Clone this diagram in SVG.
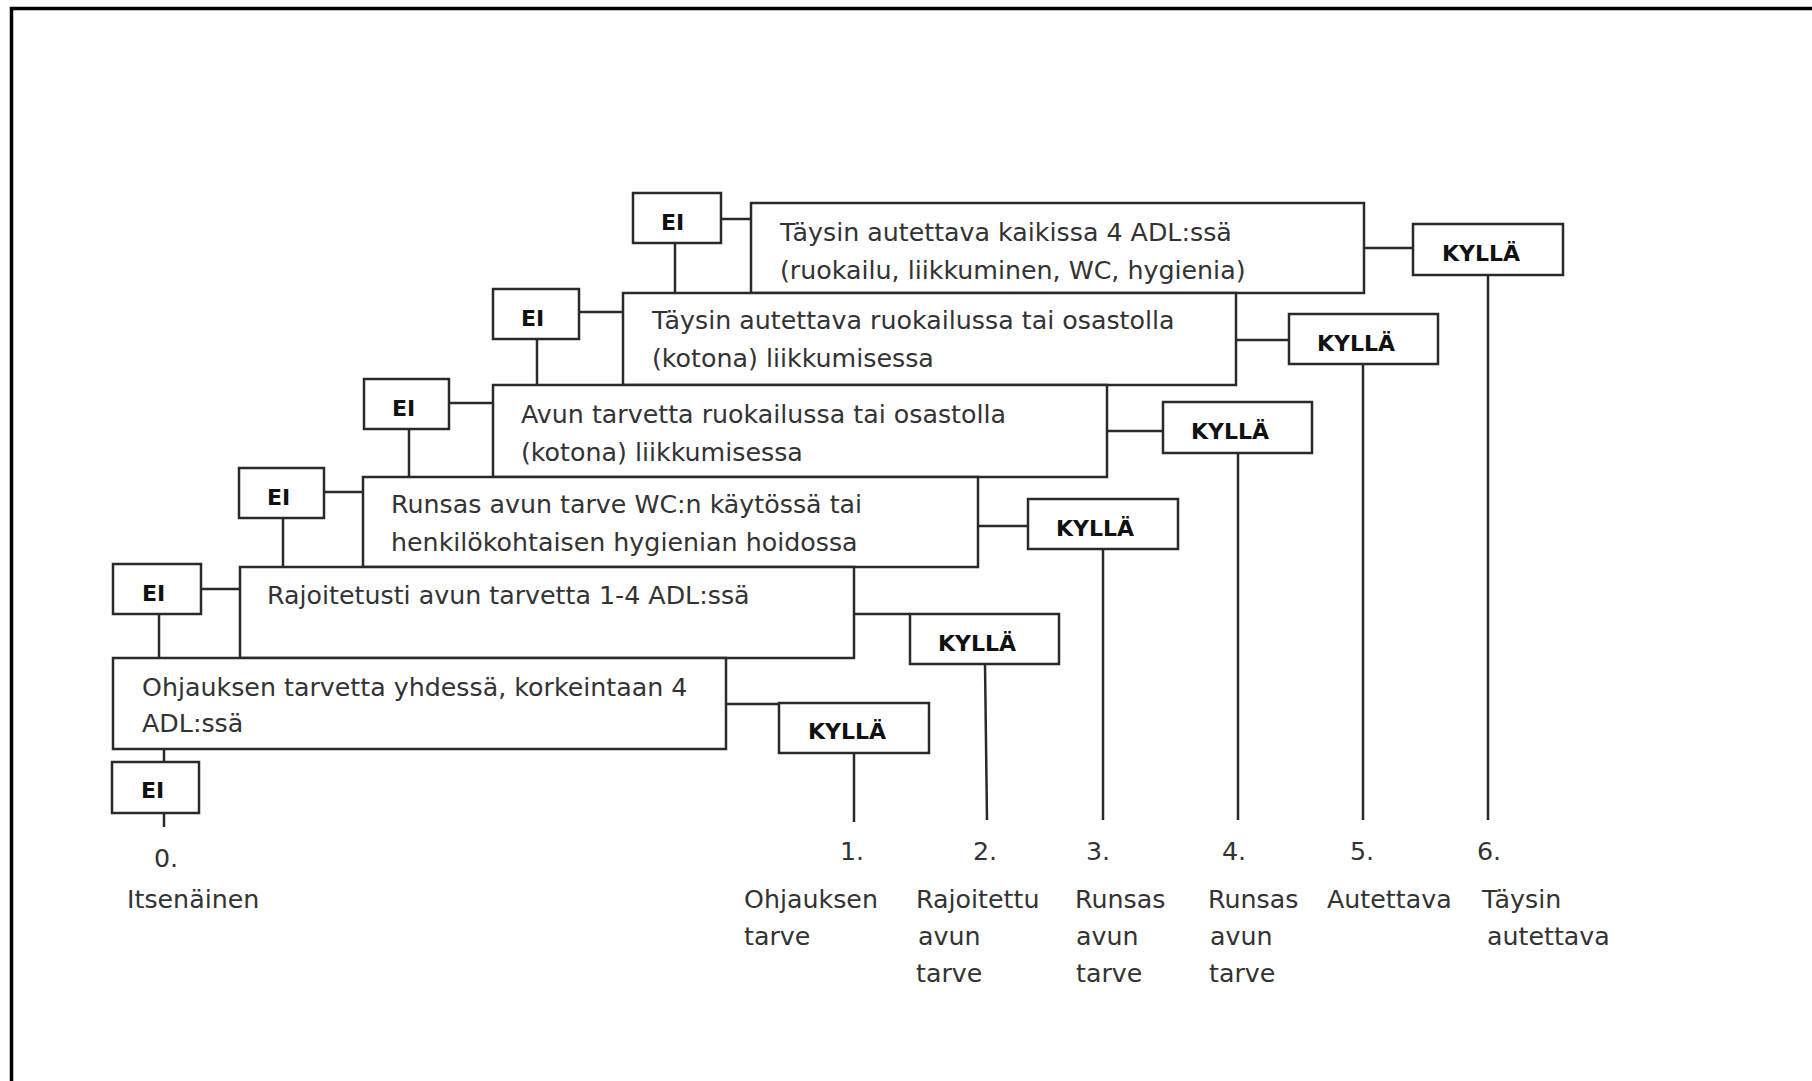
<svg xmlns="http://www.w3.org/2000/svg" width="1812" height="1081" viewBox="0 0 1812 1081">
<style>
.bx{fill:#fff;stroke:#2a2a2a;stroke-width:2.5}
.ln{stroke:#2a2a2a;stroke-width:2.5;fill:none}
.t{font-family:"DejaVu Sans","Liberation Sans",sans-serif;font-size:25.3px;fill:#333}
.b{font-family:"DejaVu Sans","Liberation Sans",sans-serif;font-weight:bold;font-size:22px;fill:#111}
.lb{font-family:"DejaVu Sans","Liberation Sans",sans-serif;font-size:25.3px;fill:#333}
</style>
<rect x="0" y="0" width="1812" height="1081" fill="#fff"/>
<rect id="frame" x="11.5" y="8.5" width="1830" height="1100" fill="none" stroke="#000" stroke-width="3.5"/>

<g id="connectors">
  <path class="ln" d="M721 219H752"/>
  <path class="ln" d="M675 243V293"/>
  <path class="ln" d="M579 312H623"/>
  <path class="ln" d="M537 339V385"/>
  <path class="ln" d="M449 403H493"/>
  <path class="ln" d="M409 429V477"/>
  <path class="ln" d="M324 492H363"/>
  <path class="ln" d="M283 518V567"/>
  <path class="ln" d="M201 589H240"/>
  <path class="ln" d="M159 614V658"/>
  <path class="ln" d="M164 749V762"/>
  <path class="ln" d="M164 813V827"/>
  <path class="ln" d="M1364 248H1413"/>
  <path class="ln" d="M1236 340H1289"/>
  <path class="ln" d="M1107 431H1163"/>
  <path class="ln" d="M978 526H1028"/>
  <path class="ln" d="M854 614H910"/>
  <path class="ln" d="M726 704H779"/>
  <path class="ln" d="M1488 275V820"/>
  <path class="ln" d="M1363 364V820"/>
  <path class="ln" d="M1238 453V820"/>
  <path class="ln" d="M1103 549V820"/>
  <path class="ln" d="M985 664L987 820"/>
  <path class="ln" d="M854 753V822"/>
</g>

<g id="box6">
  <rect class="bx" x="751" y="203" width="613" height="90"/>
  <text class="t" x="780" y="241">Täysin autettava kaikissa 4 ADL:ssä</text>
  <text class="t" x="780" y="279">(ruokailu, liikkuminen, WC, hygienia)</text>
</g>
<g id="box5">
  <rect class="bx" x="623" y="293" width="613" height="92"/>
  <text class="t" x="652" y="329">Täysin autettava ruokailussa tai osastolla</text>
  <text class="t" x="652" y="367">(kotona) liikkumisessa</text>
</g>
<g id="box4">
  <rect class="bx" x="493" y="385" width="614" height="92"/>
  <text class="t" x="521" y="423">Avun tarvetta ruokailussa tai osastolla</text>
  <text class="t" x="521" y="461">(kotona) liikkumisessa</text>
</g>
<g id="box3">
  <rect class="bx" x="363" y="477" width="615" height="90"/>
  <text class="t" x="391" y="513">Runsas avun tarve WC:n käytössä tai</text>
  <text class="t" x="391" y="551">henkilökohtaisen hygienian hoidossa</text>
</g>
<g id="box2">
  <rect class="bx" x="240" y="567" width="614" height="91"/>
  <text class="t" x="267" y="604">Rajoitetusti avun tarvetta 1-4 ADL:ssä</text>
</g>
<g id="box1">
  <rect class="bx" x="113" y="658" width="613" height="91"/>
  <text class="t" x="142" y="696">Ohjauksen tarvetta yhdessä, korkeintaan 4</text>
  <text class="t" x="142" y="732">ADL:ssä</text>
</g>

<g id="ei6"><rect class="bx" x="633" y="193" width="88" height="50"/><text class="b" x="661" y="230">EI</text></g>
<g id="ei5"><rect class="bx" x="493" y="289" width="86" height="50"/><text class="b" x="521" y="326">EI</text></g>
<g id="ei4"><rect class="bx" x="364" y="379" width="85" height="50"/><text class="b" x="392" y="416">EI</text></g>
<g id="ei3"><rect class="bx" x="239" y="468" width="85" height="50"/><text class="b" x="267" y="505">EI</text></g>
<g id="ei2"><rect class="bx" x="113" y="564" width="88" height="50"/><text class="b" x="142" y="601">EI</text></g>
<g id="ei0"><rect class="bx" x="112" y="762" width="87" height="51"/><text class="b" x="141" y="798">EI</text></g>

<g id="kylla6"><rect class="bx" x="1413" y="224" width="150" height="51"/><text class="b" x="1442" y="261">KYLLÄ</text></g>
<g id="kylla5"><rect class="bx" x="1289" y="314" width="149" height="50"/><text class="b" x="1317" y="351">KYLLÄ</text></g>
<g id="kylla4"><rect class="bx" x="1163" y="402" width="149" height="51"/><text class="b" x="1191" y="439">KYLLÄ</text></g>
<g id="kylla3"><rect class="bx" x="1028" y="499" width="150" height="50"/><text class="b" x="1056" y="536">KYLLÄ</text></g>
<g id="kylla2"><rect class="bx" x="910" y="614" width="149" height="50"/><text class="b" x="938" y="651">KYLLÄ</text></g>
<g id="kylla1"><rect class="bx" x="779" y="703" width="150" height="50"/><text class="b" x="808" y="739">KYLLÄ</text></g>

<g id="level0">
  <text class="lb" x="154" y="867">0.</text>
  <text class="lb" x="127" y="908">Itsenäinen</text>
</g>
<g id="level1">
  <text class="lb" x="840" y="860">1.</text>
  <text class="lb" x="744" y="908">Ohjauksen</text>
  <text class="lb" x="744" y="945">tarve</text>
</g>
<g id="level2">
  <text class="lb" x="973" y="860">2.</text>
  <text class="lb" x="916" y="908">Rajoitettu</text>
  <text class="lb" x="918" y="945">avun</text>
  <text class="lb" x="916" y="982">tarve</text>
</g>
<g id="level3">
  <text class="lb" x="1086" y="860">3.</text>
  <text class="lb" x="1075" y="908">Runsas</text>
  <text class="lb" x="1076" y="945">avun</text>
  <text class="lb" x="1076" y="982">tarve</text>
</g>
<g id="level4">
  <text class="lb" x="1222" y="860">4.</text>
  <text class="lb" x="1208" y="908">Runsas</text>
  <text class="lb" x="1210" y="945">avun</text>
  <text class="lb" x="1209" y="982">tarve</text>
</g>
<g id="level5">
  <text class="lb" x="1350" y="860">5.</text>
  <text class="lb" x="1327" y="908">Autettava</text>
</g>
<g id="level6">
  <text class="lb" x="1477" y="860">6.</text>
  <text class="lb" x="1482" y="908">Täysin</text>
  <text class="lb" x="1487" y="945">autettava</text>
</g>
</svg>
